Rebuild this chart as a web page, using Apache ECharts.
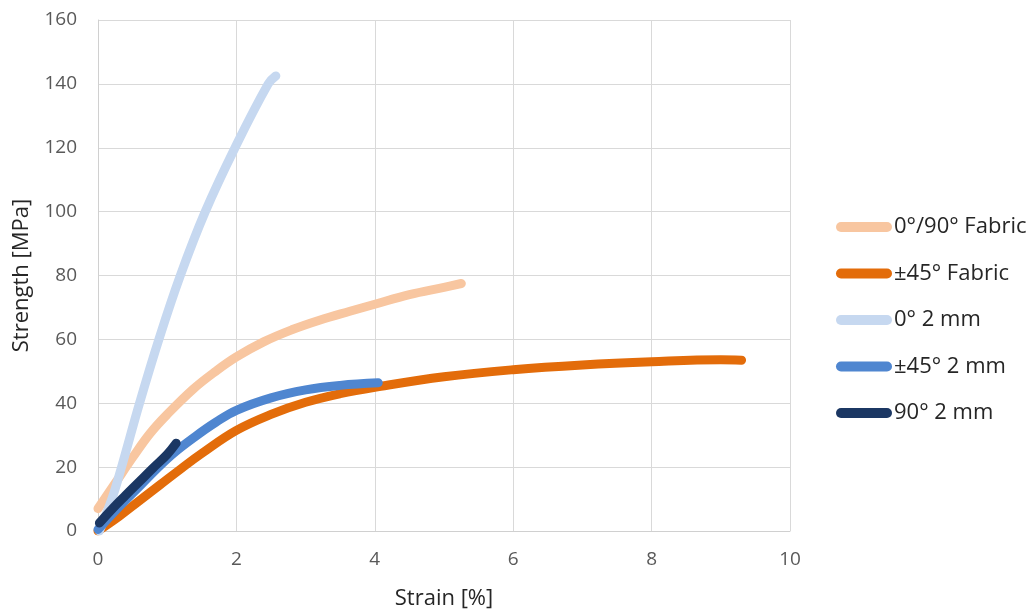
<!DOCTYPE html>
<html>
<head>
<meta charset="utf-8">
<script src="https://cdn.jsdelivr.net/npm/echarts@6/dist/echarts.min.js"></script>
<style>
html,body{margin:0;padding:0;background:#fff;}
#chart{width:1035px;height:615px;}
</style>
</head>
<body>
<div id="chart"></div>
<script>
// Series names
const seriesNames = ['0°/90° Fabric', '±45° Fabric', '0° 2 mm', '±45° 2 mm', '90° 2 mm'];

// 0°/90° Fabric
const fabric090Strain   = [0, 0.25, 0.5, 0.75, 1.0, 1.38, 1.7, 2.0, 2.4, 2.8, 3.2, 3.64, 4.0, 4.5, 5.0, 5.25];
const fabric090Strength = [7, 15, 23, 30.5, 36.5, 44.5, 50, 54.5, 59.3, 63, 66, 68.8, 71, 74, 76.3, 77.5];

// ±45° Fabric
const fabric45Strain   = [0, 0.3, 0.6, 0.9, 1.2, 1.5, 2.0, 2.5, 3.0, 3.5, 4.0, 5.0, 6.0, 7.0, 8.0, 9.0, 9.3];
const fabric45Strength = [0, 4.5, 9.5, 14.5, 19.5, 24.3, 31.5, 36.5, 40.3, 43, 45, 48.3, 50.5, 52, 53, 53.6, 53.5];

// 0° 2 mm
const uni0Strain   = [0.02, 0.2, 0.34, 0.6, 0.88, 1.19, 1.55, 1.98, 2.46, 2.57];
const uni0Strength = [0, 10, 20, 40, 60, 80, 100, 120, 140, 142.5];

// ±45° 2 mm
const uni45Strain   = [0, 0.3, 0.6, 0.85, 1.1, 1.4, 1.7, 2.0, 2.5, 3.0, 3.5, 4.05];
const uni45Strength = [0.5, 7.5, 14, 19.5, 24.5, 29.5, 34, 37.8, 41.7, 44.2, 45.6, 46.4];

// 90° 2 mm
const uni90Strain   = [0.02, 0.2, 0.4, 0.6, 0.8, 1.0, 1.13];
const uni90Strength = [2.5, 6.8, 11.2, 15.5, 19.8, 24, 27.5];

const xTicks = [0, 2, 4, 6, 8, 10];
const yTicks = [0, 20, 40, 60, 80, 100, 120, 140, 160];

const colors = ['#f8c6a0', '#e36c0a', '#c6d8f0', '#4f86d0', '#1b3763'];

function pairs(xs, ys) { return xs.map((x, i) => [x, ys[i]]); }

const dataSets = [
  pairs(fabric090Strain, fabric090Strength),
  pairs(fabric45Strain, fabric45Strength),
  pairs(uni0Strain, uni0Strength),
  pairs(uni45Strain, uni45Strength),
  pairs(uni90Strain, uni90Strength)
];

const FONT = '"Open Sans", sans-serif';
const capsule = 'path://M5,0 L51,0 A5,5 0 0 1 51,10 L5,10 A5,5 0 0 1 5,0 Z';

const chart = echarts.init(document.getElementById('chart'), null, {renderer: 'canvas'});
chart.setOption({
  animation: false,
  backgroundColor: '#ffffff',
  color: colors,
  grid: {left: 98, right: 245, top: 20, bottom: 84, containLabel: false},
  legend: {
    orient: 'vertical',
    left: 836,
    top: 216,
    padding: 0,
    itemWidth: 56,
    itemHeight: 10,
    itemGap: 24.5,
    icon: capsule,
    textStyle: {fontFamily: FONT, fontSize: 22, color: '#262626', padding: [0, 0, 0, -3]},
    data: seriesNames
  },
  xAxis: {
    type: 'value',
    min: 0, max: 10, interval: 2,
    name: 'Strain [%]',
    nameLocation: 'middle',
    nameGap: 57,
    nameTextStyle: {fontFamily: FONT, fontSize: 22, color: '#262626'},
    axisLine: {show: true, lineStyle: {color: '#d0d0d0', width: 1}},
    axisTick: {show: false},
    axisLabel: {fontFamily: FONT, fontSize: 19, color: '#595959', margin: 19,
      formatter: v => xTicks.includes(v) ? String(v) : ''},
    splitLine: {show: true, lineStyle: {color: '#d9d9d9', width: 1}}
  },
  yAxis: {
    type: 'value',
    min: 0, max: 160, interval: 20,
    name: 'Strength [MPa]',
    nameLocation: 'middle',
    nameGap: 65,
    nameRotate: 90,
    nameTextStyle: {fontFamily: FONT, fontSize: 22, color: '#262626'},
    axisLine: {show: true, lineStyle: {color: '#d0d0d0', width: 1}},
    axisTick: {show: false},
    axisLabel: {fontFamily: FONT, fontSize: 19, color: '#595959', margin: 21,
      formatter: v => yTicks.includes(v) ? String(v) : ''},
    splitLine: {show: true, lineStyle: {color: '#d9d9d9', width: 1}}
  },
  series: dataSets.map((d, i) => ({
    name: seriesNames[i],
    type: 'line',
    data: d,
    smooth: 0.4,
    symbol: 'none',
    lineStyle: {color: colors[i], width: 9, cap: 'round', join: 'round'},
    itemStyle: {color: colors[i]},
    z: 2 + i
  }))
});
</script>
</body>
</html>
